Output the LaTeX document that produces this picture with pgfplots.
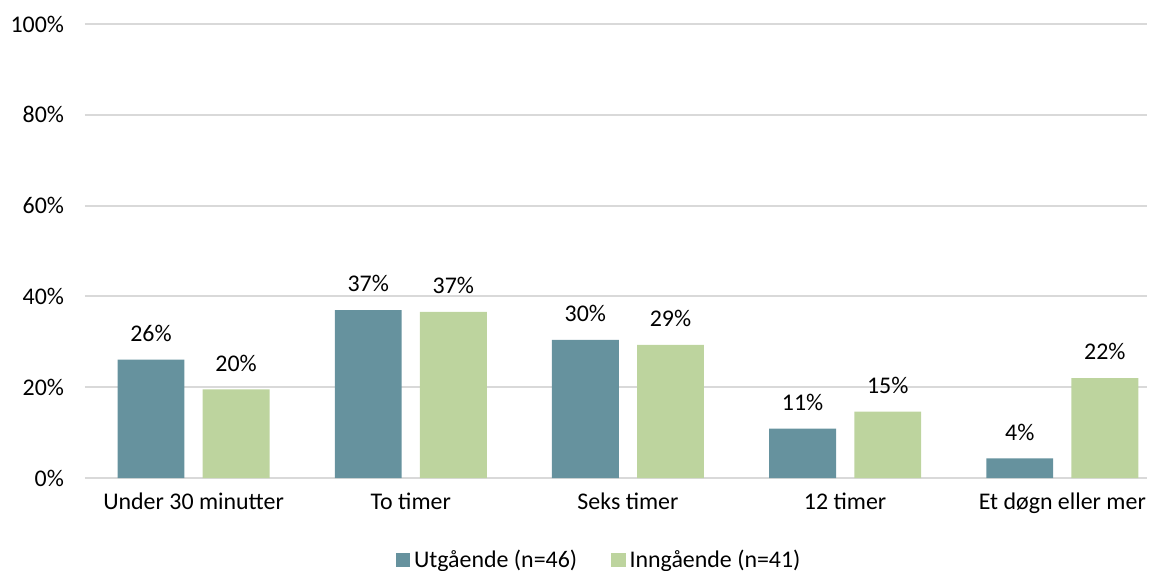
\documentclass[border=0pt]{standalone}
\usepackage{pgfplots}
\pgfplotsset{compat=1.18}
\usepackage{fontspec}
\setmainfont{Carlito}

\definecolor{utg}{HTML}{66929E}
\definecolor{inng}{HTML}{BDD49E}
\definecolor{gridgray}{HTML}{D9D9D9}

\begin{document}
\begin{tikzpicture}
\begin{axis}[
    at={(0,0)}, anchor=south west,
    scale only axis,
    width=531bp, height=227bp,
    ybar,
    bar width=0.308,
    xmin=-0.5, xmax=4.39,
    ymin=0, ymax=100,
    xtick={0,1,2,3,4},
    xticklabels={Under 30 minutter, To timer, Seks timer, 12 timer, Et døgn eller mer},
    ytick={0,20,40,60,80,100},
    yticklabel={\pgfmathprintnumber{\tick}\%},
    /pgf/number format/assume math mode=true,
    major tick length=0pt,
    axis line style={draw=none},
    ymajorgrids,
    grid style={gridgray, line width=1pt},
    tick label style={font=\fontsize{12}{14}\selectfont, text=black},
    yticklabel style={xshift=-7bp},
    xticklabel style={yshift=-4bp},
    nodes near coords={\pgfmathprintnumber[fixed,precision=0]{\pgfplotspointmeta}\%},
    nodes near coords style={font=\fontsize{12}{14}\selectfont, text=black, yshift=5.5bp},
    legend columns=2,
    legend style={draw=none, fill=none, at={(0.485,-0.181)}, anchor=center,
        font=\fontsize{12}{14}\selectfont,
        /tikz/every even column/.append style={column sep=15bp}},
    legend image code/.code={\fill[#1, draw=none] (0bp,-3.6bp) rectangle (7.2bp,3.6bp);},
]
% Utgående (n=46)
\addplot[fill=utg, draw=none, bar shift=-0.196] coordinates {
    (0,26.1) (1,37.0) (2,30.4) (3,10.9) (4,4.3)
};
% Inngående (n=41)
\addplot[fill=inng, draw=none, bar shift=0.196] coordinates {
    (0,19.5) (1,36.6) (2,29.3) (3,14.6) (4,22.0)
};
\legend{Utgående (n=46), Inngående (n=41)}
\end{axis}
\pgfresetboundingbox
\path[use as bounding box] (-42.5bp,-46.5bp) rectangle (536bp,239bp);
\end{tikzpicture}
\end{document}
